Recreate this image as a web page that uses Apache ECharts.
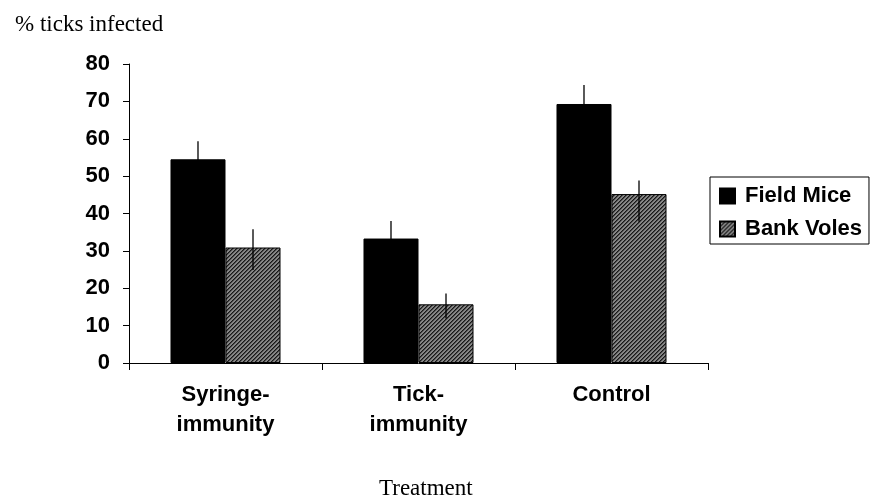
<!DOCTYPE html>
<html>
<head>
<meta charset="utf-8">
<script src="https://cdn.jsdelivr.net/npm/echarts@6/dist/echarts.min.js"></script>
<style>
html,body{margin:0;padding:0;background:#fff;}
#chart{width:870px;height:496px;}
</style>
</head>
<body>
<div id="chart"></div>
<script>
// ---- data ----
var categories = ['Syringe-\nimmunity', 'Tick-\nimmunity', 'Control'];
var seriesNames = ['Field Mice', 'Bank Voles'];
var fieldMice = [54.5, 33.3, 69.3];
var bankVoles = [30.9, 15.7, 45.2];
var fieldMiceErrLow = [49.7, 28.6, 64.2];
var fieldMiceErrHigh = [59.3, 38.0, 74.4];
var bankVolesErrLow = [24.9, 11.9, 37.8];
var bankVolesErrHigh = [35.8, 18.6, 48.8];
var yTicks = [0, 10, 20, 30, 40, 50, 60, 70, 80];
var yTitle = '% ticks infected';
var xTitle = 'Treatment';

// ---- styling ----
var gapRatio = 0.43;
function hatchPattern() {
  var c = document.createElement('canvas');
  c.width = 8; c.height = 8;
  var ctx = c.getContext('2d');
  var img = ctx.createImageData(8, 8);
  for (var y = 0; y < 8; y++) {
    for (var x = 0; x < 8; x++) {
      var d = (x + y) % 4;
      var v = d === 0 ? 0x18 : (d === 1 ? 0x48 : 0x86);
      var i = (y * 8 + x) * 4;
      img.data[i] = v; img.data[i + 1] = v; img.data[i + 2] = v; img.data[i + 3] = 255;
    }
  }
  ctx.putImageData(img, 0, 0);
  return c;
}
var hatch = { image: hatchPattern(), repeat: 'repeat' };

function errData(low, high) {
  return low.map(function (l, i) { return [i, l, high[i]]; });
}
function errSeries(name, low, high, side) {
  return {
    type: 'custom',
    name: name + ' error',
    z: 10,
    encode: { x: 0, y: [1, 2] },
    data: errData(low, high),
    renderItem: function (params, api) {
      var ci = api.value(0);
      var p1 = api.coord([ci, api.value(1)]);
      var p2 = api.coord([ci, api.value(2)]);
      var band = api.size([1, 0])[0];
      var bw = band * (1 - gapRatio) / 2;
      var x = p1[0] + side * bw / 2;
      return {
        type: 'line',
        shape: { x1: x, y1: p1[1], x2: x, y2: p2[1] },
        style: { stroke: '#000', lineWidth: 1.3 }
      };
    }
  };
}

var boldFont = '"Liberation Sans", Arial, sans-serif';
var serifFont = '"Liberation Serif", "Times New Roman", serif';

var chart = echarts.init(document.getElementById('chart'), null, { renderer: 'canvas' });
chart.setOption({
  animation: false,
  backgroundColor: '#fff',
  title: [
    { text: yTitle, left: 10, top: 8, textStyle: { fontFamily: serifFont, fontSize: 23, fontWeight: 'normal', color: '#000' } },
    { text: xTitle, left: 374, top: 472, textStyle: { fontFamily: serifFont, fontSize: 23, fontWeight: 'normal', color: '#000' } }
  ],
  grid: { left: 129, right: 162, top: 64, bottom: 133 },
  legend: {
    data: seriesNames,
    orient: 'vertical',
    left: 710,
    top: 177,
    padding: [8, 7, 4, 9],
    itemGap: 11,
    itemWidth: 15,
    itemHeight: 15,
    icon: 'rect',
    borderColor: '#000',
    borderWidth: 1,
    borderRadius: 0,
    textStyle: { fontFamily: boldFont, fontSize: 22, fontWeight: 'bold', color: '#000', padding: [0, 0, 0, 5] }
  },
  xAxis: {
    type: 'category',
    data: categories,
    axisLine: { lineStyle: { color: '#000', width: 1 } },
    axisTick: { show: true, length: 7, lineStyle: { color: '#000' } },
    axisLabel: {
      margin: 17,
      interval: 0,
      fontFamily: boldFont, fontSize: 22, fontWeight: 'bold', color: '#000', lineHeight: 30
    }
  },
  yAxis: {
    type: 'value',
    min: yTicks[0],
    max: yTicks[yTicks.length - 1],
    interval: yTicks[1] - yTicks[0],
    splitLine: { show: false },
    axisLine: { show: true, lineStyle: { color: '#000', width: 1 } },
    axisTick: { show: true, length: 6, lineStyle: { color: '#000' } },
    axisLabel: {
      margin: 19,
      fontFamily: boldFont, fontSize: 22, fontWeight: 'bold', color: '#000',
      padding: [0, 0, 8, 0]
    }
  },
  series: [
    {
      type: 'bar', name: seriesNames[0], data: fieldMice,
      barGap: '0%', barCategoryGap: (gapRatio * 100) + '%',
      itemStyle: { color: '#000', borderColor: '#000', borderWidth: 1 }
    },
    {
      type: 'bar', name: seriesNames[1], data: bankVoles,
      barGap: '0%', barCategoryGap: (gapRatio * 100) + '%',
      itemStyle: { color: hatch, borderColor: '#000', borderWidth: 1 }
    },
    errSeries(seriesNames[0], fieldMiceErrLow, fieldMiceErrHigh, -1),
    errSeries(seriesNames[1], bankVolesErrLow, bankVolesErrHigh, 1)
  ]
});
</script>
</body>
</html>
